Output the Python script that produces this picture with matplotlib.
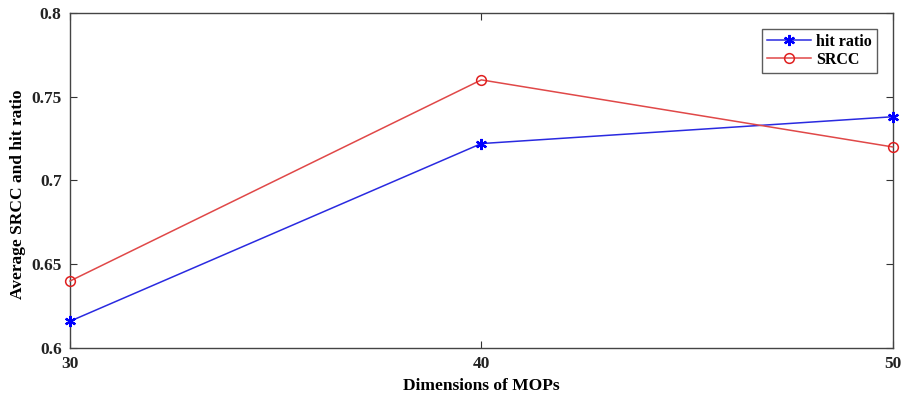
import matplotlib
matplotlib.use("Agg")
import matplotlib.pyplot as plt

plt.rcParams['font.family'] = ['Liberation Serif', 'DejaVu Serif']
plt.rcParams['font.weight'] = 'bold'

# data
dims = [30, 40, 50]
hit_ratio = [0.616, 0.722, 0.738]
srcc = [0.640, 0.760, 0.720]
yticks = [0.6, 0.65, 0.7, 0.75, 0.8]
ytick_labels = ['0.6', '0.65', '0.7', '0.75', '0.8']

fig = plt.figure(figsize=(9.09, 4.01), dpi=100)
ax = fig.add_axes([0.077, 0.132, 0.905, 0.836])

# MATLAB-style asterisk marker for hit ratio
ax.plot(dims, hit_ratio, color='#2a2ae0', linewidth=1.1, marker=(6, 2, 0),
        markersize=8, markeredgewidth=1.6, markeredgecolor='blue',
        label='hit ratio', clip_on=False, zorder=3)
ax.plot(dims, srcc, color='#e04848', linewidth=1.1, marker='o',
        markersize=7, markeredgewidth=1.1, markeredgecolor='#e02020',
        markerfacecolor='none', label='SRCC', clip_on=False, zorder=3)

ax.set_xlim(30, 50)
ax.set_ylim(0.6, 0.8)
ax.set_xticks(dims)
ax.set_yticks(yticks)
ax.set_yticklabels(ytick_labels)
ax.tick_params(direction='in', top=True, right=True, length=5,
               labelsize=12.5, width=0.8, colors='#333333', pad=6)
for lab in ax.get_xticklabels() + ax.get_yticklabels():
    lab.set_color('#222222')
    lab.set_fontweight('bold')
for sp in ax.spines.values():
    sp.set_color('#444444')
    sp.set_linewidth(1.0)

ax.set_xlabel('Dimensions of MOPs', fontsize=12.5, fontweight='bold', labelpad=4)
ax.set_ylabel('Average SRCC and hit ratio', fontsize=12.5, fontweight='bold')
ax.yaxis.set_label_coords(-0.054, 0.46)

leg = ax.legend(loc='upper right', fontsize=11.5, frameon=True, fancybox=False,
                edgecolor='#333333', borderaxespad=1.0, handlelength=2.8,
                borderpad=0.3, labelspacing=0.15, handletextpad=0.3)
leg.get_frame().set_linewidth(1.0)
for t in leg.get_texts():
    t.set_fontweight('bold')

fig.savefig('out.png', dpi=100)
